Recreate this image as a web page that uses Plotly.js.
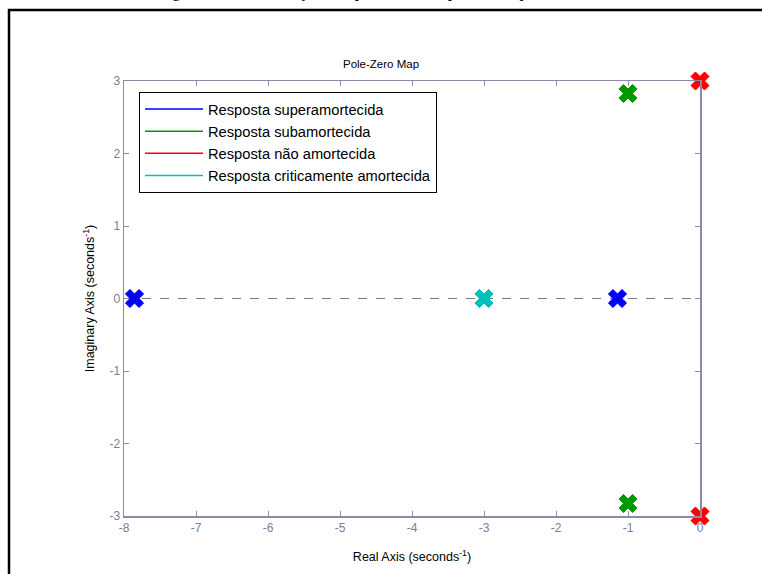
<!DOCTYPE html>
<html>
<head>
<meta charset="utf-8">
<script src="https://cdn.plot.ly/plotly-3.0.1.min.js"></script>
<style>html,body{margin:0;padding:0;background:#fff;}#chart{width:762px;height:574px;}</style>
</head>
<body>
<div id="chart"></div>
<script>
// Series names
const seriesNames = ["Resposta superamortecida", "Resposta subamortecida", "Resposta não amortecida", "Resposta criticamente amortecida"];
const seriesColors = ["#0000ff", "#009900", "#ff0000", "#00bfbf"];
// Pole locations (real, imaginary)
const superReal = [-7.854, -1.146];
const superImag = [0, 0];
const subReal = [-1, -1];
const subImag = [2.828, -2.828];
const naoReal = [0, 0];
const naoImag = [3, -3];
const critReal = [-3, -3];
const critImag = [0, 0];
const xTicks = [-8, -7, -6, -5, -4, -3, -2, -1, 0];
const xTickText = ["-8", "-7", "-6", "-5", "-4", "-3", "-2", "-1", "0"];
const yTicks = [-3, -2, -1, 0, 1, 2, 3];
const yTickText = ["-3", "-2", "-1", "0", "1", "2", "3"];

const polesX = [superReal, subReal, naoReal, critReal];
const polesY = [superImag, subImag, naoImag, critImag];

const traces = [];
for (let i = 0; i < 4; i++) {
  traces.push({
    x: polesX[i], y: polesY[i], type: 'scatter', mode: 'markers',
    marker: {symbol: 'x', size: 16, color: seriesColors[i], line: {width: 1, color: seriesColors[i]}},
    cliponaxis: false, showlegend: false, hoverinfo: 'x+y'
  });
}
for (let i = 0; i < 4; i++) {
  traces.push({
    x: [null], y: [null], type: 'scatter', mode: 'lines',
    line: {color: seriesColors[i], width: 1.5},
    name: seriesNames[i], legendgroup: 'g' + i, showlegend: true
  });
}

const axisColor = '#8c8ca6';
const tickFontColor = '#7c7c96';
const layout = {
  width: 762, height: 574,
  margin: {l: 124, r: 62, t: 81, b: 58},
  paper_bgcolor: '#ffffff', plot_bgcolor: '#ffffff',
  font: {family: 'Arial, Liberation Sans, sans-serif', size: 11, color: '#000'},
  title: {text: 'Pole-Zero Map', x: 0.5, xanchor: 'center', y: 1 - 64/574, yanchor: 'middle', yref: 'container', font: {size: 11.5, color: '#000'}},
  xaxis: {
    range: [-8, 0], tickvals: xTicks, ticktext: xTickText, ticks: 'inside', ticklen: 5, tickcolor: axisColor,
    showline: true, linecolor: axisColor, linewidth: 1.5, mirror: 'ticks', showgrid: false, zeroline: false,
    tickfont: {size: 12, color: tickFontColor},
    title: {text: 'Real Axis (seconds<sup>-1</sup>)', font: {size: 12.5, color: '#000'}, standoff: 18}
  },
  yaxis: {
    range: [-3, 3], tickvals: yTicks, ticktext: yTickText, ticks: 'inside', ticklen: 5, tickcolor: axisColor,
    showline: true, linecolor: axisColor, linewidth: 1.5, mirror: 'ticks', showgrid: false, zeroline: false,
    tickfont: {size: 12, color: tickFontColor},
    title: {text: 'Imaginary Axis (seconds<sup>-1</sup>)', font: {size: 12.5, color: '#000'}, standoff: 12}
  },
  legend: {
    x: (139 - 124) / 576, y: (516 - 92) / 435, xanchor: 'left', yanchor: 'top',
    bgcolor: '#ffffff', bordercolor: '#000000', borderwidth: 1,
    font: {size: 14.7, color: '#000'}, itemwidth: 58, traceorder: 'grouped', tracegroupgap: 0
  },
  shapes: [
    {type: 'line', xref: 'paper', yref: 'y', x0: 0, x1: 1, y0: 0, y1: 0, layer: 'below',
     line: {color: '#7a7a8a', width: 1, dash: 'dash'}},
    {type: 'rect', xref: 'paper', yref: 'paper', x0: (9 - 124) / 576, x1: 2, y0: -1, y1: (516 - 10) / 435,
     line: {color: '#000000', width: 2.5}, fillcolor: 'rgba(0,0,0,0)'}
  ],
  annotations: [
    {text: 'Figura 12 – Localização dos polos e zeros para as respostas', xref: 'paper', yref: 'paper',
     x: (360 - 124) / 576, y: (516 - 3) / 435, xanchor: 'center', yanchor: 'bottom', showarrow: false,
     font: {family: 'Liberation Serif, Times New Roman, serif', size: 17, color: '#000'}}
  ]
};

Plotly.newPlot('chart', traces, layout, {staticPlot: true, displayModeBar: false});
</script>
</body>
</html>
